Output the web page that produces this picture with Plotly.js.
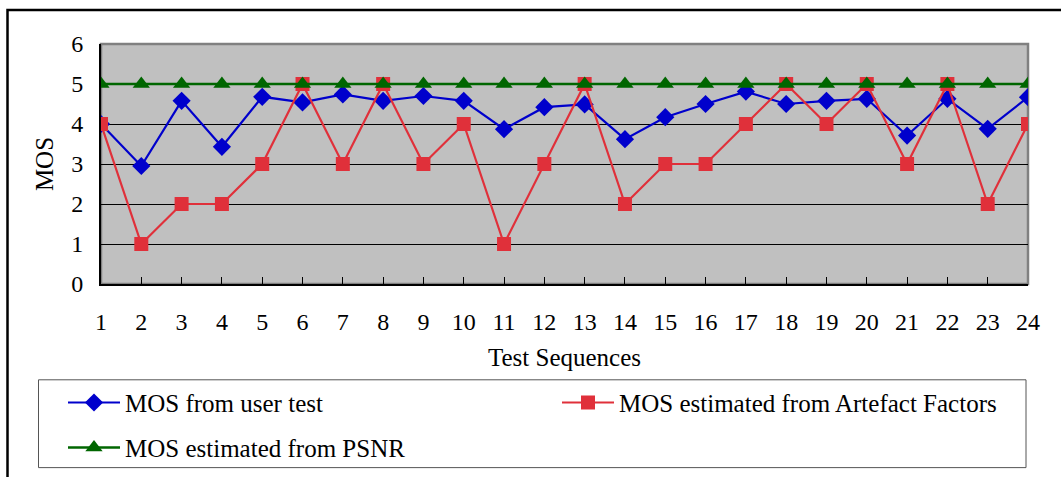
<!DOCTYPE html>
<html>
<head>
<meta charset="utf-8">
<script src="https://cdn.plot.ly/plotly-3.0.1.min.js"></script>
<style>html,body{margin:0;padding:0;background:#fff;}#chart{width:1061px;height:477px;}</style>
</head>
<body>
<div id="chart"></div>
<script>
// ---- data ----
const sequences = [1,2,3,4,5,6,7,8,9,10,11,12,13,14,15,16,17,18,19,20,21,22,23,24];
const mosUserTest = [4.0,2.95,4.58,3.43,4.68,4.54,4.74,4.58,4.70,4.58,3.87,4.42,4.49,3.62,4.17,4.50,4.81,4.50,4.58,4.63,3.71,4.63,3.88,4.67];
const mosArtefact = [4,1,2,2,3,5,3,5,3,4,1,3,5,2,3,3,4,5,4,5,3,5,2,4];
const mosPSNR = [5,5,5,5,5,5,5,5,5,5,5,5,5,5,5,5,5,5,5,5,5,5,5,5];
const seriesNames = ["MOS from user test","MOS estimated from Artefact Factors","MOS estimated from PSNR"];
const yTicks = [0,1,2,3,4,5,6];

// ---- layout geometry (pixels) ----
const W = 1061, H = 477;
const L = 101, R = 1028, T = 43.5, B = 284;
const pw = R - L, ph = B - T;
const px = v => (v - L) / pw;
const py = v => (B - v) / ph;

const FONT = "Liberation Serif";

const traces = [
  {x: sequences, y: mosUserTest, name: seriesNames[0], mode: "lines+markers", type: "scatter",
   line: {color: "#0000CC", width: 2.2}, marker: {symbol: "diamond", size: 14, color: "#0000CC"}, legend: "legend"},
  {x: sequences, y: mosArtefact, name: seriesNames[1], mode: "lines+markers", type: "scatter",
   line: {color: "#E0303A", width: 2.2}, marker: {symbol: "square", size: 14, color: "#E0303A"}, legend: "legend2"},
  {x: sequences, y: mosPSNR, name: seriesNames[2], mode: "lines+markers", type: "scatter",
   line: {color: "#006600", width: 2.5}, marker: {symbol: "triangle-up", size: 15, color: "#006600"}, legend: "legend3"}
];

const legendBase = {
  font: {family: FONT, size: 25, color: "#000"},
  bgcolor: "rgba(0,0,0,0)", borderwidth: 0,
  itemwidth: 52, xanchor: "left", yanchor: "middle", orientation: "v",
  itemclick: false, itemdoubleclick: false
};

const layout = {
  width: W, height: H,
  margin: {l: L, r: W - R, t: T, b: H - B, pad: 0, autoexpand: false},
  paper_bgcolor: "#FFFFFF",
  plot_bgcolor: "#C0C0C0",
  font: {family: FONT, size: 24, color: "#000"},
  showlegend: true,
  xaxis: {
    type: "linear", range: [1, 24], tickvals: sequences, ticktext: sequences.map(String),
    ticks: "inside", ticklen: 7, tickwidth: 1, tickcolor: "#000",
    showgrid: false, zeroline: false, showline: true, linecolor: "#000", linewidth: 2,
    ticklabelstandoff: 15, automargin: false,
    tickfont: {family: FONT, size: 24, color: "#000"},
    title: {text: "Test Sequences", font: {family: FONT, size: 25, color: "#000"}, standoff: 15}
  },
  yaxis: {
    range: [0, 6], tickvals: yTicks, ticks: "",
    showgrid: true, gridcolor: "#000", gridwidth: 1,
    zeroline: false, showline: true, linecolor: "#000", linewidth: 2,
    ticklabelstandoff: 11, automargin: false,
    tickfont: {family: FONT, size: 24, color: "#000"},
    title: {text: "MOS", font: {family: FONT, size: 25, color: "#000"}, standoff: 10}
  },
  legend: Object.assign({}, legendBase, {x: px(63), y: py(403)}),
  legend2: Object.assign({}, legendBase, {x: px(557), y: py(403)}),
  legend3: Object.assign({}, legendBase, {x: px(63), y: py(448)}),
  shapes: [
    // plot frame (grey top/right)
    {type: "rect", xref: "paper", yref: "paper", x0: 0, x1: 1, y0: 0, y1: 1,
     line: {color: "#808080", width: 2.5}, fillcolor: "rgba(0,0,0,0)", layer: "below"},
    // outer chart frame
    {type: "rect", xref: "paper", yref: "paper", x0: px(7.5), x1: px(1070), y0: py(9.5), y1: py(490),
     line: {color: "#000", width: 2.5}, fillcolor: "rgba(0,0,0,0)"},
    // legend box
    {type: "rect", xref: "paper", yref: "paper", x0: px(38.5), x1: px(1026), y0: py(380), y1: py(468),
     line: {color: "#555", width: 1}, fillcolor: "rgba(0,0,0,0)"}
  ]
};

Plotly.newPlot("chart", traces, layout, {staticPlot: true, displayModeBar: false});
</script>
</body>
</html>
